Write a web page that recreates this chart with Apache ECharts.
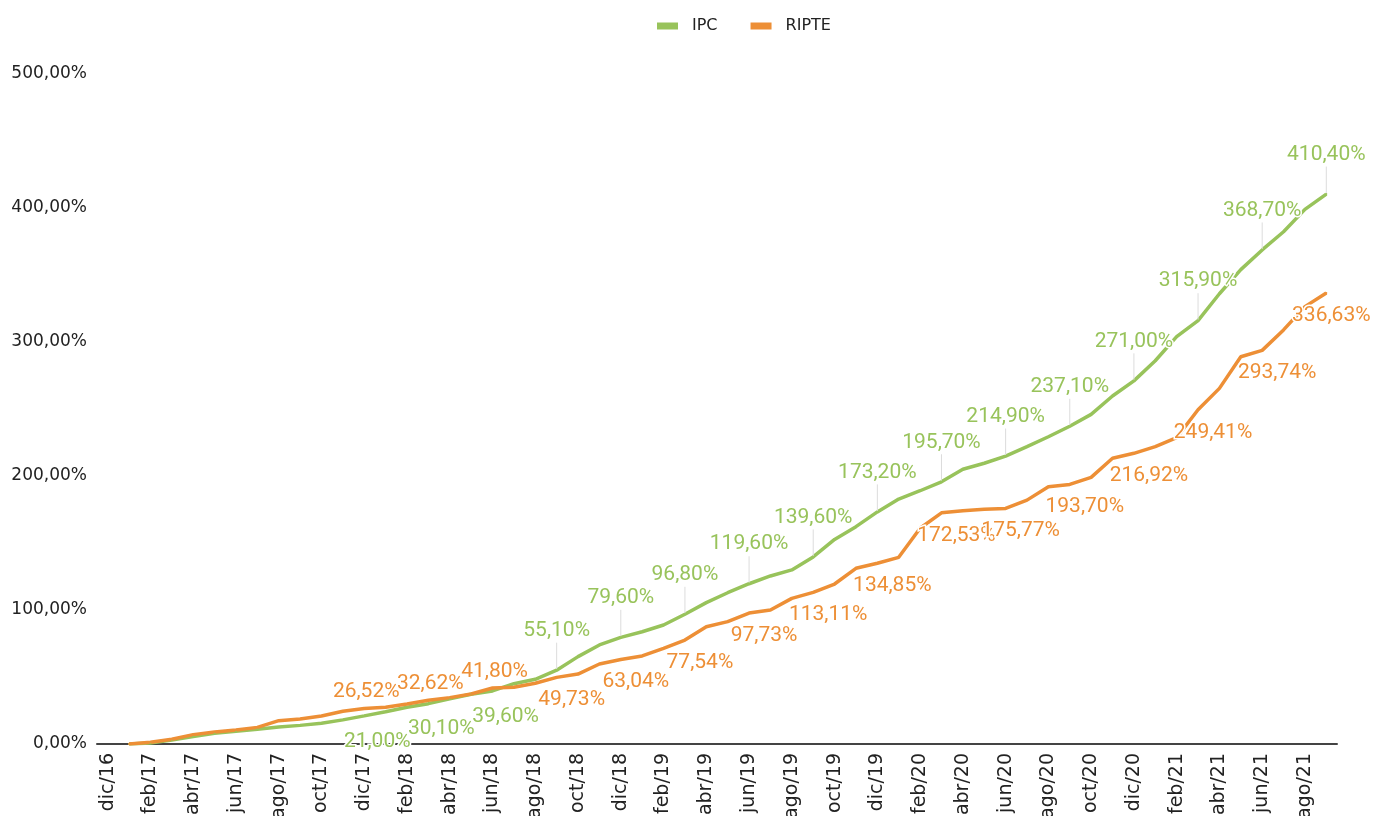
<!DOCTYPE html>
<html>
<head>
<meta charset="utf-8">
<script src="https://cdn.jsdelivr.net/npm/echarts@6/dist/echarts.min.js"></script>
<style>
html,body{margin:0;padding:0;background:#fff;}
#chart{width:1373px;height:816px;}
</style>
</head>
<body>
<div id="chart"></div>
<script>
const categories = [
  'dic/16',
  'ene/17','feb/17','mar/17','abr/17','may/17','jun/17','jul/17','ago/17','sep/17','oct/17','nov/17','dic/17',
  'ene/18','feb/18','mar/18','abr/18','may/18','jun/18','jul/18','ago/18','sep/18','oct/18','nov/18','dic/18',
  'ene/19','feb/19','mar/19','abr/19','may/19','jun/19','jul/19','ago/19','sep/19','oct/19','nov/19','dic/19',
  'ene/20','feb/20','mar/20','abr/20','may/20','jun/20','jul/20','ago/20','sep/20','oct/20','nov/20','dic/20',
  'ene/21','feb/21','mar/21','abr/21','may/21','jun/21','jul/21','ago/21','sep/21'
];

const ipc = [
  null,
  0, 0.8, 3.0, 5.5, 8.0, 9.5, 11.0, 12.6, 13.9, 15.5, 18.0, 21.00,
  24.1, 27.4, 30.10, 33.8, 37.1, 39.60, 45.0, 48.3, 55.10, 65.2, 73.9, 79.60,
  83.8, 88.8, 96.80, 105.5, 112.9, 119.60, 125.4, 129.9, 139.60, 152.7, 162.2, 173.20,
  182.8, 189.0, 195.70, 205.0, 209.5, 214.90, 221.9, 229.3, 237.10, 246.0, 259.7, 271.00,
  286.0, 304.0, 315.90, 336.0, 354.0, 368.70, 382.3, 399.0, 410.40
];

const ripte = [
  null,
  0, 1.3, 3.5, 7.0, 9.0, 10.4, 12.4, 17.4, 18.6, 20.9, 24.4, 26.52,
  27.4, 29.9, 32.62, 34.6, 37.3, 41.80, 42.3, 45.3, 49.73, 52.2, 59.7, 63.04,
  65.7, 71.4, 77.54, 87.5, 91.3, 97.73, 100.0, 108.7, 113.11, 119.4, 131.1, 134.85,
  139.3, 161.0, 172.53, 174.1, 175.1, 175.77, 182.0, 192.0, 193.70, 199.0, 213.2, 216.92,
  221.9, 228.6, 249.41, 265.4, 289.0, 293.74, 309.0, 326.4, 336.63
];

const yTicks = [0, 100, 200, 300, 400, 500];

const GREEN = '#98c35b';
const ORANGE = '#ed8f36';

function fmt(v) {
  return v.toFixed(2).replace('.', ',') + '%';
}
function isLabeled(i) { return i >= 12 && (i - 12) % 3 === 0; }

const labelBase = {
  show: true,
  fontFamily: 'Roboto',
  fontSize: 21,
  textBorderColor: '#fff',
  textBorderWidth: 3,
  formatter: p => fmt(p.value)
};

function buildData(values, seriesIdx) {
  const last = values.length - 1;
  return values.map((v, i) => {
    if (v === null || !isLabeled(i)) return { value: v, label: { show: false } };
    const early = i <= 18;
    let label, labelLine = { show: false };
    if (seriesIdx === 0) {
      if (early) {
        label = Object.assign({}, labelBase, { color: GREEN, position: 'bottom', distance: 14 });
      } else {
        label = Object.assign({}, labelBase, { color: GREEN, position: 'top', distance: 4 });
        labelLine = { show: true, lineStyle: { color: '#dcdcdc', width: 1 } };
      }
    } else {
      if (early) {
        label = Object.assign({}, labelBase, { color: ORANGE, position: 'top', distance: 5, offset: [2, 0] });
      } else {
        label = Object.assign({}, labelBase, { color: ORANGE, position: 'bottom', distance: 11, offset: [i === last ? 5 : 15, 0] });
      }
    }
    return { value: v, label: label, labelLine: labelLine };
  });
}

const chart = echarts.init(document.getElementById('chart'), null, { renderer: 'canvas' });

chart.setOption({
  animation: false,
  backgroundColor: '#ffffff',
  legend: {
    top: 13,
    left: 652,
    itemWidth: 21,
    itemHeight: 7,
    itemGap: 33,
    icon: 'rect',
    textStyle: { fontFamily: 'DejaVu Sans', fontSize: 16, color: '#222', padding: [0, 0, 0, 9] },
    data: ['IPC', 'RIPTE']
  },
  grid: { left: 97, right: 36, top: 74, bottom: 72, containLabel: false, outerBoundsMode: 'none' },
  xAxis: {
    type: 'category',
    data: categories,
    boundaryGap: true,
    axisLine: { show: true, lineStyle: { color: '#444', width: 2 } },
    axisTick: { show: false },
    axisLabel: {
      interval: 1,
      rotate: 90,
      margin: 9,
      fontFamily: 'DejaVu Sans',
      fontSize: 19,
      color: '#222'
    },
    splitLine: { show: false }
  },
  yAxis: {
    type: 'value',
    min: yTicks[0],
    max: yTicks[yTicks.length - 1],
    interval: yTicks[1] - yTicks[0],
    axisLine: { show: false },
    axisTick: { show: false },
    splitLine: { show: false },
    axisLabel: {
      margin: 10,
      fontFamily: 'DejaVu Sans',
      fontSize: 17,
      color: '#222',
      formatter: v => fmt(v)
    }
  },
  series: [
    {
      name: 'IPC',
      type: 'line',
      data: buildData(ipc, 0),
      color: GREEN,
      lineStyle: { color: GREEN, width: 3.5 },
      itemStyle: { color: GREEN },
      symbol: 'circle',
      symbolSize: 2,
      showSymbol: true,
      showAllSymbol: true,
      labelLayout: function (params) {
        if (!isLabeled(params.dataIndex)) return {};
        if (params.dataIndex > 18) return { dy: -24 };
        return { dx: 13 };
      }
    },
    {
      name: 'RIPTE',
      type: 'line',
      data: buildData(ripte, 1),
      color: ORANGE,
      lineStyle: { color: ORANGE, width: 3.5 },
      itemStyle: { color: ORANGE },
      symbol: 'circle',
      symbolSize: 2,
      showSymbol: true,
      showAllSymbol: true
    }
  ]
});
</script>
</body>
</html>
